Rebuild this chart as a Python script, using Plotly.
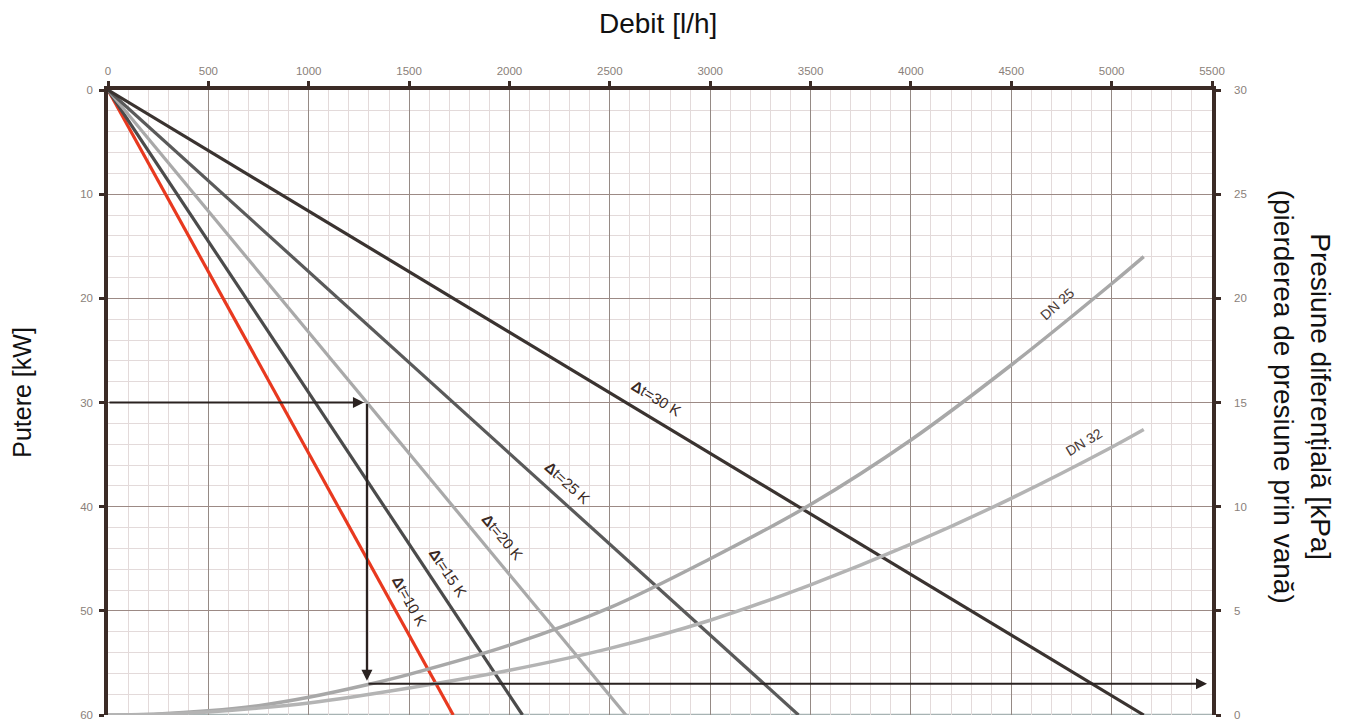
import plotly.graph_objects as go

# ---- data ----
dt_labels = ["Δt=10 K", "Δt=15 K", "Δt=20 K", "Δt=25 K", "Δt=30 K"]
dt_flow_at_60kw = [1720, 2065, 2580, 3440, 5160]          # l/h reached at 60 kW
dt_colors = ["#e8391f", "#4b4b4b", "#a9a9a9", "#5a5a5a", "#3a3330"]
power_ends = [0, 60]                                        # kW

dn25_flow = [0, 250, 500, 750, 1000, 1290, 1500, 2000, 2500, 3000, 3500, 4000, 4500, 5000, 5160]
dn25_kpa = [0, 0.05, 0.2, 0.45, 0.85, 1.45, 1.95, 3.35, 5.15, 7.5, 10.1, 13.2, 16.8, 20.7, 22.0]
dn32_flow = [0, 250, 500, 750, 1000, 1500, 2000, 2500, 3000, 3500, 4000, 4500, 5000, 5160]
dn32_kpa = [0, 0.04, 0.15, 0.33, 0.58, 1.3, 2.15, 3.2, 4.55, 6.25, 8.2, 10.4, 12.85, 13.7]

# example reading (arrows)
ex_power = 30       # kW
ex_flow = 1290      # l/h
ex_dp = 1.5         # kPa
ex_flow_end = 5475  # l/h (right edge)

# label positions (flow, kW, angle)
dt_label_pos = [(1504, 49.1, 61), (1694, 46.3, 56), (1963, 42.9, 50), (2287, 37.7, 42), (2735, 29.6, 31)]
dn_labels = ["DN 25", "DN 32"]
dn_label_pos = [(4728, 20.5, -42), (4862, 33.8, -31)]

x_ticks = list(range(0, 5501, 500))
y_ticks = list(range(0, 61, 10))
y2_ticks = list(range(0, 31, 5))

FONT = "Arial, Liberation Sans, sans-serif"
AXIS_COLOR = "#3b2b26"
TICK_FONT = dict(family=FONT, size=11.5, color="#8a7f7a")

fig = go.Figure()

# bottom base line (60 kW / 0 kPa)
fig.add_shape(type="line", xref="x", yref="y", x0=0, x1=5500, y0=60, y1=60,
              line=dict(color="#a7b3b3", width=2.5), layer="below")

# DN curves (pressure, right axis)
fig.add_trace(go.Scatter(x=dn25_flow, y=dn25_kpa, yaxis="y2", mode="lines",
                         line=dict(color="#a8a8a8", width=3.5, shape="spline", smoothing=1.0),
                         showlegend=False, hoverinfo="skip"))
fig.add_trace(go.Scatter(x=dn32_flow, y=dn32_kpa, yaxis="y2", mode="lines",
                         line=dict(color="#b4b4b4", width=3.5, shape="spline", smoothing=1.0),
                         showlegend=False, hoverinfo="skip"))

# Δt lines (power, left axis)
for flow_end, col in zip(dt_flow_at_60kw, dt_colors):
    fig.add_trace(go.Scatter(x=[0, flow_end], y=power_ends, mode="lines",
                             line=dict(color=col, width=3.2),
                             showlegend=False, hoverinfo="skip"))

annotations = []
for txt, (fx, py, ang) in zip(dt_labels, dt_label_pos):
    annotations.append(dict(x=fx, y=py, xref="x", yref="y",
                            text="<b>Δ</b>" + txt[1:], textangle=ang, showarrow=False,
                            font=dict(family=FONT, size=15, color="#3a2a25")))
for txt, (fx, py, ang) in zip(dn_labels, dn_label_pos):
    annotations.append(dict(x=fx, y=py, xref="x", yref="y",
                            text=txt, textangle=ang, showarrow=False,
                            font=dict(family=FONT, size=14, color="#4a3a35")))

arrow_style = dict(showarrow=True, arrowhead=2, arrowsize=1, arrowwidth=2.2,
                   arrowcolor="#2a2220", text="")
annotations.append(dict(x=ex_flow - 15, y=ex_power, xref="x", yref="y",
                        ax=0, ay=ex_power, axref="x", ayref="y", **arrow_style))
annotations.append(dict(x=ex_flow, y=ex_dp + 0.15, xref="x", yref="y2",
                        ax=ex_flow, ay=15, axref="x", ayref="y2", **arrow_style))
annotations.append(dict(x=ex_flow_end, y=ex_dp, xref="x", yref="y2",
                        ax=ex_flow, ay=ex_dp, axref="x", ayref="y2", **arrow_style))

# Axis titles (positions relative to the plot area)
title_font = dict(family=FONT, size=28, color="#111")
annotations.append(dict(x=0.498, y=1.106, xref="paper", yref="paper", text="Debit [l/h]",
                        xanchor="center", yanchor="middle", showarrow=False, font=title_font))
annotations.append(dict(x=-0.078, y=0.517, xref="paper", yref="paper", text="Putere [kW]",
                        xanchor="center", yanchor="middle",
                        textangle=-90, showarrow=False, font=dict(family=FONT, size=25, color="#111")))
annotations.append(dict(x=1.082, y=0.51, xref="paper", yref="paper",
                        text="Presiune diferențială [kPa]<br>(pierderea de presiune prin vană)",
                        xanchor="center", yanchor="middle",
                        textangle=90, showarrow=False, font=title_font))

common = dict(showline=True, linewidth=3.5, linecolor=AXIS_COLOR,
              ticks="outside", ticklen=5, tickwidth=3, tickcolor=AXIS_COLOR,
              tickfont=TICK_FONT, zeroline=False, fixedrange=True, automargin=False)

# the page body has an 8px default margin, so the figure is 8px smaller
fig.update_layout(
    width=1343, height=716,
    margin=dict(l=100, r=139, t=82, b=9),
    paper_bgcolor="white", plot_bgcolor="white",
    annotations=annotations,
    xaxis=dict(side="top", range=[0, 5500], tickvals=x_ticks, ticktext=[str(v) for v in x_ticks],
               showgrid=True, gridcolor="#958a85", gridwidth=1, ticklabelstandoff=2,
               minor=dict(dtick=100, showgrid=True, gridcolor="#e3dada", gridwidth=1, ticks=""),
               **common),
    yaxis=dict(range=[60, 0], tickvals=y_ticks, ticktext=[str(v) for v in y_ticks],
               showgrid=True, gridcolor="#9c8a85", gridwidth=1, ticklabelstandoff=4,
               minor=dict(dtick=2, showgrid=True, gridcolor="#e3dada", gridwidth=1, ticks=""),
               **common),
    yaxis2=dict(range=[0, 30], overlaying="y", side="right", tickvals=y2_ticks,
                ticktext=[str(v) for v in y2_ticks], showgrid=False, ticklabelstandoff=11,
                **common),
)

fig.write_html("out.html")
